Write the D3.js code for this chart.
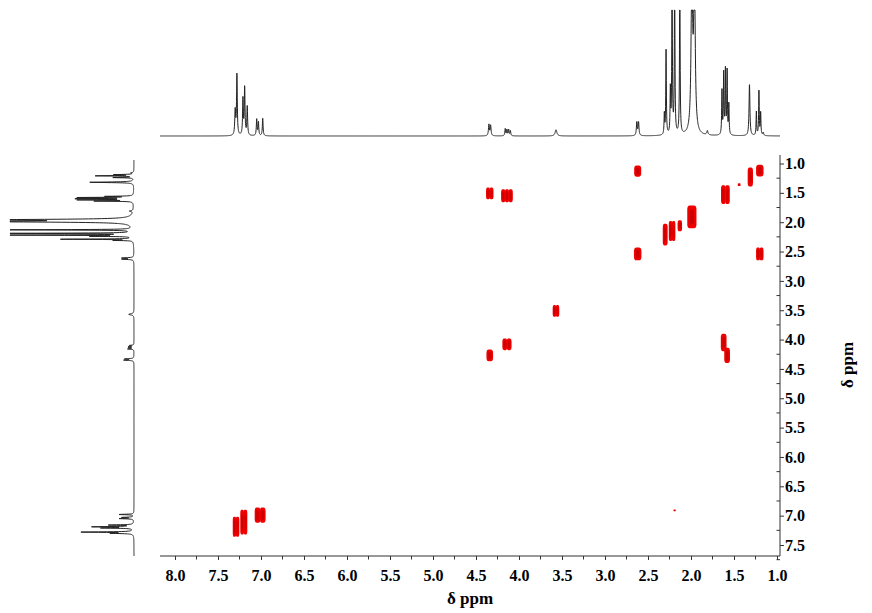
<!DOCTYPE html>
<html>
<head>
<meta charset="utf-8">
<script src="https://cdn.jsdelivr.net/npm/d3@7"></script>
<style>
  html, body { margin: 0; padding: 0; background: #fff; }
  svg { display: block; }
  .tick text { font-family: "Liberation Serif", "Times New Roman", serif; font-weight: bold; font-size: 16px; fill: #000; }
</style>
</head>
<body>
<svg id="chart" width="872" height="613"></svg>
<script>
// ---- 1D proton spectrum: peak positions (ppm), heights (relative, 100 = top of trace box), line half-widths (ppm)
const peakPpm    = [7.30, 7.28, 7.21, 7.19, 7.16, 7.05, 7.03, 6.98,
                    4.35, 4.33, 4.16, 4.14, 4.12, 4.10, 3.57,
                    2.63, 2.61, 2.31, 2.29, 2.24, 2.22, 2.19, 2.13, 1.99, 1.96, 1.81,
                    1.64, 1.62, 1.60, 1.58, 1.56, 1.32, 1.24, 1.21, 1.19, 1.16];
const peakHeight = [24, 59, 35, 46, 28, 16, 13, 17,
                    11, 10, 7, 6, 6, 5, 6,
                    13, 13, 20, 82, 43, 160, 160, 160, 160, 160, 4,
                    43, 60, 62, 62, 30, 50, 23, 43, 22, 3];
const peakWidth  = [0.006, 0.005, 0.005, 0.005, 0.005, 0.005, 0.005, 0.005,
                    0.006, 0.006, 0.005, 0.005, 0.005, 0.005, 0.012,
                    0.006, 0.006, 0.004, 0.004, 0.004, 0.004, 0.004, 0.004, 0.010, 0.010, 0.008,
                    0.004, 0.004, 0.004, 0.004, 0.004, 0.006, 0.004, 0.004, 0.004, 0.006];

// ---- 2D COSY cross peaks: F2 (x, ppm), F1 (y, ppm), extent along F2, extent along F1 (ppm), number of resolved strips
const crossX     = [2.62, 4.34, 4.14, 1.20, 1.31, 1.44, 1.60,
                    2.30, 2.22, 2.13, 1.99, 2.62, 1.20,
                    3.57, 4.34, 4.14, 1.62, 1.58,
                    7.29, 7.20, 7.01, 2.19];
const crossY     = [1.13, 1.51, 1.55, 1.12, 1.23, 1.36, 1.53,
                    2.21, 2.15, 2.06, 1.91, 2.54, 2.54,
                    3.51, 4.27, 4.08, 4.05, 4.27,
                    7.19, 7.11, 6.99, 6.91];
const crossW     = [0.075, 0.08, 0.13, 0.08, 0.055, 0.025, 0.095,
                    0.05, 0.07, 0.045, 0.10, 0.08, 0.08,
                    0.07, 0.07, 0.10, 0.06, 0.06,
                    0.07, 0.075, 0.12, 0.02];
const crossH     = [0.19, 0.20, 0.22, 0.20, 0.32, 0.05, 0.32,
                    0.37, 0.34, 0.19, 0.39, 0.22, 0.22,
                    0.20, 0.20, 0.20, 0.30, 0.26,
                    0.34, 0.42, 0.26, 0.03];
const crossN     = [1, 2, 3, 1, 1, 1, 2,
                    1, 2, 1, 1, 1, 2,
                    2, 1, 2, 1, 1,
                    2, 2, 2, 1];

// ---- axis ticks
const majorTicks = [8.0, 7.5, 7.0, 6.5, 6.0, 5.5, 5.0, 4.5, 4.0, 3.5, 3.0, 2.5, 2.0, 1.5, 1.0];
const yMajorTicks = [1.0, 1.5, 2.0, 2.5, 3.0, 3.5, 4.0, 4.5, 5.0, 5.5, 6.0, 6.5, 7.0, 7.5];
const axisTitle = "δ ppm";

const svg = d3.select("#chart");

// scales (ppm -> pixel), calibrated on tick positions
const x = d3.scaleLinear().domain([8.0, 1.0]).range([175, 777]);
const y = d3.scaleLinear().domain([1.0, 7.5]).range([163.5, 545]);

const plotLeft = 160, plotRight = 780, plotTop = 155, plotBottom = 556;
const xMin = x.invert(plotLeft), xMax = x.invert(plotRight);
const yMin = y.invert(160), yMax = y.invert(plotBottom);

// intensity scales for the projections
const topBase = 136, topClip = 10;
const hTop = d3.scaleLinear().domain([0, 100]).range([topBase, topBase - 103]);
const leftBase = 134, leftClip = 10;
const hLeft = d3.scaleLinear().domain([0, 100]).range([leftBase, leftBase - 88]);

function intensity(p) {
  let s = 0;
  for (let i = 0; i < peakPpm.length; i++) {
    const d = p - peakPpm[i], w = peakWidth[i];
    s += peakHeight[i] * (w * w) / (d * d + w * w);
  }
  return s;
}

const step = 0.0015;
const specTop = d3.range(xMin, xMax, -step).map(p => [p, intensity(p)]);
const specLeft = d3.range(yMin, yMax, step).map(p => [p, intensity(p)]);

svg.append("path")
  .datum(specTop)
  .attr("fill", "none")
  .attr("stroke", "#222")
  .attr("stroke-width", 1)
  .attr("d", d3.line()
    .x(d => x(d[0]))
    .y(d => Math.max(topClip, hTop(d[1]))));

svg.append("path")
  .datum(specLeft)
  .attr("fill", "none")
  .attr("stroke", "#222")
  .attr("stroke-width", 1)
  .attr("d", d3.line()
    .y(d => y(d[0]))
    .x(d => Math.max(leftClip, hLeft(d[1]))));

const defs = svg.append("defs");
defs.append("filter").attr("id", "soft")
  .attr("x", "-50%").attr("y", "-50%").attr("width", "200%").attr("height", "200%")
  .append("feGaussianBlur").attr("stdDeviation", 0.5);

// cross peaks
const pxPerPpmX = Math.abs(x(0) - x(1));
const pxPerPpmY = Math.abs(y(1) - y(0));
const blobs = [];
crossX.forEach((cx, i) => {
  const n = crossN[i];
  const wpx = crossW[i] * pxPerPpmX, hpx = crossH[i] * pxPerPpmY;
  const sw = wpx / n;
  for (let k = 0; k < n; k++) {
    const off = (k - (n - 1) / 2) * sw;
    blobs.push({ cx: x(cx) + off, cy: y(crossY[i]), w: Math.max(1.8, sw + 0.6), h: Math.max(1.8, hpx) });
  }
});
const g2 = svg.append("g").attr("filter", "url(#soft)");
g2.selectAll("rect.outer").data(blobs).join("rect")
  .attr("class", "outer")
  .attr("x", d => d.cx - d.w / 2).attr("y", d => d.cy - d.h / 2)
  .attr("width", d => d.w).attr("height", d => d.h)
  .attr("rx", d => Math.min(d.w * 0.35, 2.5)).attr("ry", d => Math.min(d.h * 0.3, 4))
  .attr("fill", "#ee0000");
g2.selectAll("rect.inner").data(blobs).join("rect")
  .attr("class", "inner")
  .attr("x", d => d.cx - d.w * 0.22).attr("y", d => d.cy - d.h * 0.3)
  .attr("width", d => d.w * 0.44).attr("height", d => d.h * 0.6)
  .attr("rx", 1).attr("fill", "#cc0000");

// bottom axis
const minorX = d3.range(8.25, 0.99, -0.25).filter(v => majorTicks.indexOf(+v.toFixed(2)) < 0 && v <= xMin && v >= xMax);
const gx = svg.append("g").attr("transform", `translate(0,${plotBottom})`);
gx.append("line").attr("x1", plotLeft).attr("x2", plotRight).attr("y1", 0).attr("y2", 0)
  .attr("stroke", "#333").attr("stroke-width", 1);
gx.selectAll("line.minor").data(minorX).join("line").attr("class", "minor")
  .attr("x1", d => x(d)).attr("x2", d => x(d)).attr("y1", 0).attr("y2", 3.5)
  .attr("stroke", "#333");
const bottomAxis = d3.axisBottom(x).tickValues(majorTicks).tickFormat(d3.format(".1f")).tickSize(4).tickPadding(10);
const bx = gx.append("g").call(bottomAxis);
bx.select(".domain").remove();
bx.selectAll(".tick line").attr("stroke", "#333");

// right axis
const gy = svg.append("g").attr("transform", `translate(${plotRight},0)`);
gy.append("line").attr("x1", 0).attr("x2", 0).attr("y1", plotTop).attr("y2", plotBottom)
  .attr("stroke", "#333").attr("stroke-width", 1);
const minorY = d3.range(1.25, 7.76, 0.5);
gy.selectAll("line.minor").data(minorY).join("line").attr("class", "minor")
  .attr("y1", d => y(d)).attr("y2", d => y(d)).attr("x1", -3.5).attr("x2", 0)
  .attr("stroke", "#333");
const rightAxis = d3.axisRight(y).tickValues(yMajorTicks).tickFormat(d3.format(".1f")).tickSize(4).tickPadding(1);
const ry = gy.append("g").call(rightAxis);
ry.select(".domain").remove();
ry.selectAll(".tick line").attr("stroke", "#333");

// axis titles
svg.append("text")
  .attr("x", 470).attr("y", 604)
  .attr("text-anchor", "middle")
  .style("font-family", "'Liberation Serif', 'Times New Roman', serif")
  .style("font-weight", "bold").style("font-size", "17px")
  .text(axisTitle);
svg.append("text")
  .attr("transform", "translate(853,365) rotate(-90)")
  .attr("text-anchor", "middle")
  .style("font-family", "'Liberation Serif', 'Times New Roman', serif")
  .style("font-weight", "bold").style("font-size", "17px")
  .text(axisTitle);
</script>
</body>
</html>
